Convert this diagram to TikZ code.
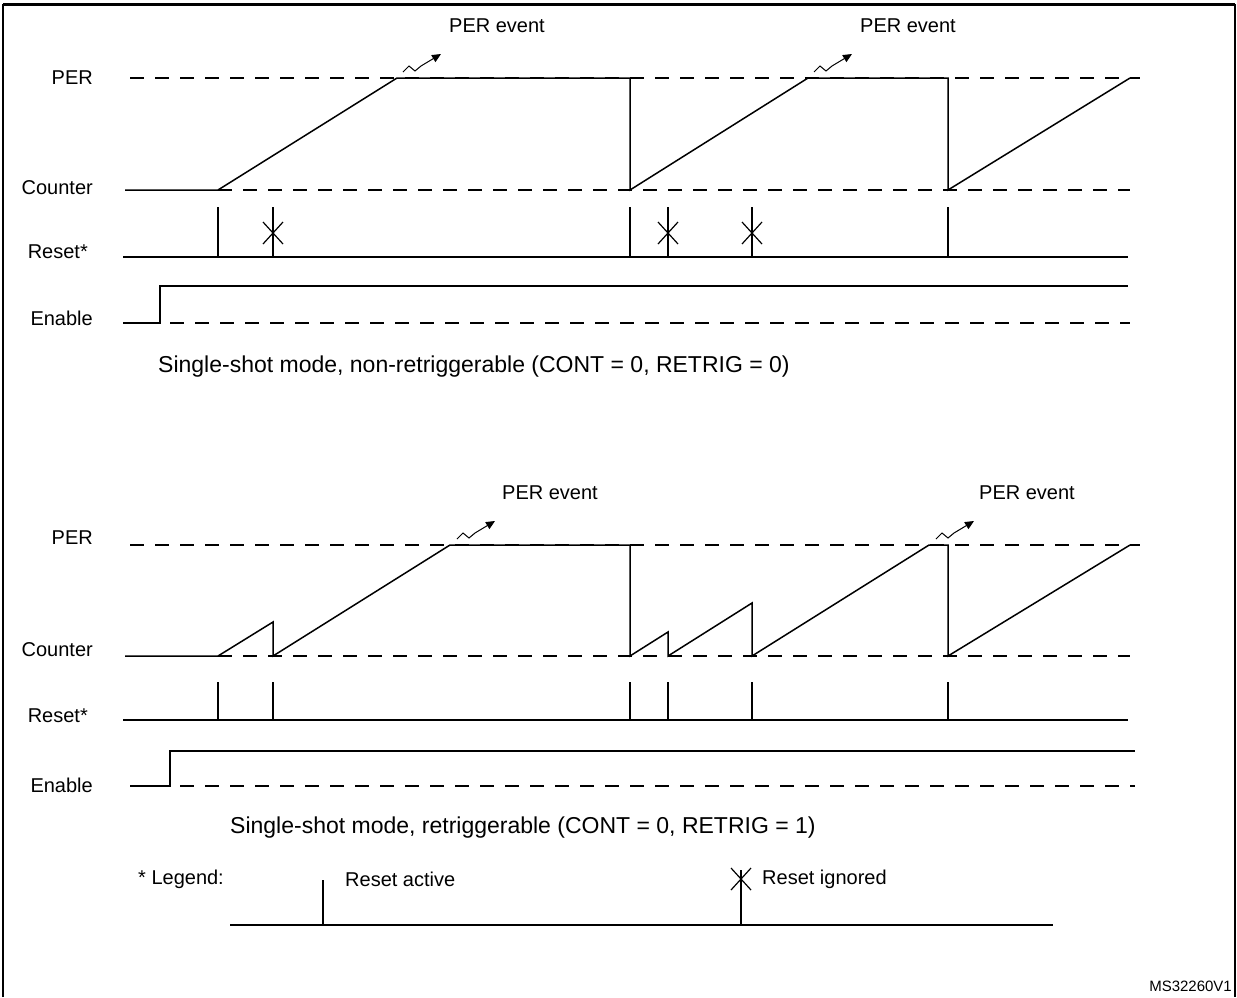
\documentclass[tikz,border=0pt]{standalone}
\usepackage{fontspec}
\setmainfont{Liberation Sans}
\usetikzlibrary{arrows.meta}
\begin{document}
\begin{tikzpicture}[x=1pt,y=-1pt,
  sig/.style={line width=1.5pt},
  dsh/.style={line width=1.5pt,dash pattern=on 14pt off 11pt},
  lbl/.style={font=\fontsize{20}{22}\selectfont,inner sep=0pt},
  captxt/.style={font=\fontsize{23}{26}\selectfont,inner sep=0pt,anchor=west},
  tick/.style={line width=1.5pt},
  evt/.style={line width=1pt,-{Triangle[length=9pt,width=8pt]}}]
\useasboundingbox (0,0) rectangle (1237,997);
\draw[line width=1.2pt] (3,997) -- (3,5) -- (1235,5) -- (1235,997);
\draw[line width=3pt] (3,4) -- (1235,4);
\newcommand{\evtmark}[2]{\draw[evt] (#1,#2) -- ++(6,-6) -- ++(6,5) -- ++(6,-5) -- ++(20,-12);}
% ---------- top diagram
\node[lbl,anchor=east] (per1) at (93,78) {PER};
\node[lbl,anchor=east] (cnt1) at (93,188) {Counter};
\node[lbl,anchor=east] (rst1) at (88,252) {Reset*};
\node[lbl,anchor=east] (en1) at (93,318) {Enable};
\node[lbl] (ev1) at (497,26) {PER event};
\node[lbl] (ev2) at (908,26) {PER event};
\draw[dsh] (130,78) -- (1140,78);
\draw[dsh] (218,190) -- (1130,190);
\draw[sig] (125,190) -- (218,190) -- (397,78) -- (630,78) -- (630,190) -- (808,78) -- (948,78) -- (948,190) -- (1130,78);
\evtmark{403}{72}
\evtmark{814}{72}
\draw[sig] (123,257) -- (1128,257);
\foreach \x in {218,630,948} \draw[tick] (\x,207) -- (\x,257);
\foreach \x in {273,668,752} {\draw[tick] (\x,207) -- (\x,257);
  \draw[line width=1.2pt] (\x-10,222) -- (\x+10,244) (\x-10,244) -- (\x+10,222);}
\draw[sig] (123,323) -- (160,323) -- (160,286) -- (1128,286);
\draw[dsh] (170,323) -- (1130,323);
\node[captxt] (c1) at (158,367) {Single-shot mode, non-retriggerable (CONT = 0, RETRIG = 0)};
% ---------- bottom diagram
\node[lbl,anchor=east] (per2) at (93,538) {PER};
\node[lbl,anchor=east] (cnt2) at (93,650) {Counter};
\node[lbl,anchor=east] (rst2) at (88,716) {Reset*};
\node[lbl,anchor=east] (en2) at (93,785) {Enable};
\node[lbl] (ev3) at (550,493) {PER event};
\node[lbl] (ev4) at (1027,493) {PER event};
\draw[dsh] (130,545) -- (1140,545);
\draw[dsh] (218,656) -- (1130,656);
\draw[sig] (125,656) -- (218,656) -- (273,622) -- (273,656) -- (450,545) -- (630,545) -- (630,656) -- (668,632) -- (668,656) -- (752,603) -- (752,656) -- (929,545) -- (948,545) -- (948,656) -- (1130,545);
\evtmark{457}{539}
\evtmark{936}{539}
\draw[sig] (123,720) -- (1128,720);
\foreach \x in {218,273,630,668,752,948} \draw[tick] (\x,682) -- (\x,720);
\draw[sig] (130,786) -- (170,786) -- (170,751) -- (1135,751);
\draw[dsh] (180,786) -- (1135,786);
\node[captxt] (c2) at (230,828) {Single-shot mode, retriggerable (CONT = 0, RETRIG = 1)};
% ---------- legend
\node[lbl,anchor=west] (lg) at (138,879) {* Legend:};
\draw[sig] (230,925) -- (1053,925);
\draw[tick] (323,880) -- (323,925);
\node[lbl,anchor=west] (ra) at (345,879) {Reset active};
\draw[tick] (741,870) -- (741,925);
\draw[line width=1.2pt] (731,868) -- (751,890) (731,890) -- (751,868);
\node[lbl,anchor=west] (ri) at (762,879) {Reset ignored};
\node[font=\fontsize{15}{17}\selectfont,inner sep=0pt,anchor=east] (ms) at (1232,986) {MS32260V1};
\end{tikzpicture}
\end{document}
